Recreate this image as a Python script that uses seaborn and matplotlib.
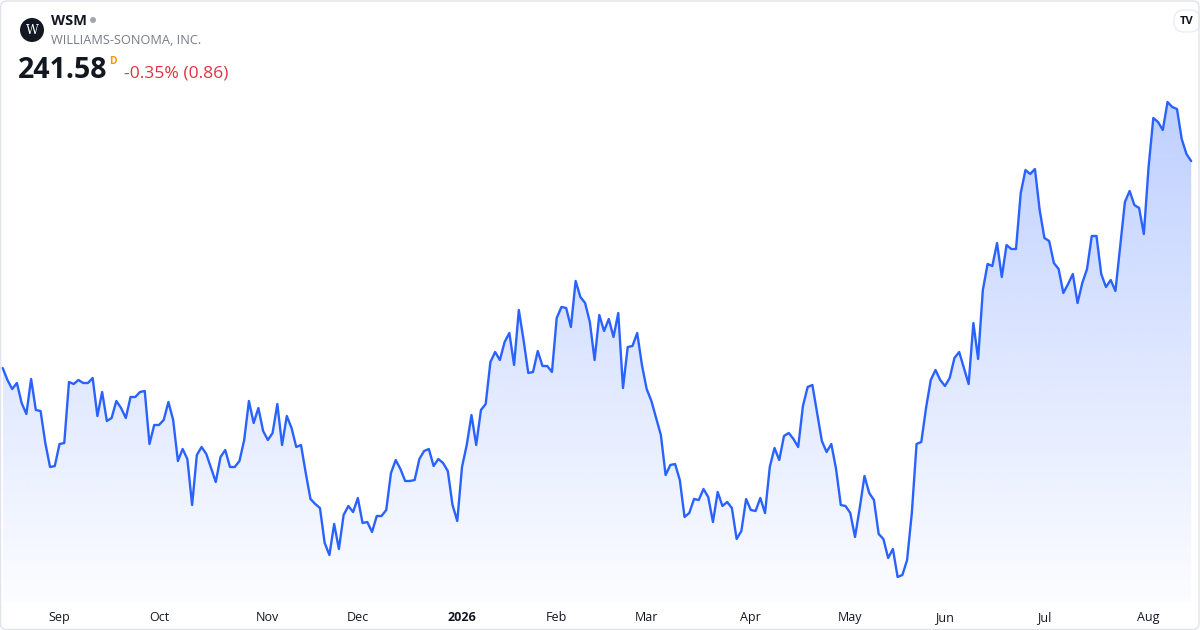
import numpy as np
import pandas as pd
import matplotlib
matplotlib.use("Agg")
import matplotlib.pyplot as plt
import seaborn as sns
from matplotlib.patches import Ellipse, FancyBboxPatch
from matplotlib.transforms import IdentityTransform

# header text
ticker = "WSM"
company = "WILLIAMS-SONOMA, INC."
last_price = "241.58"
change_text = "-0.35% (0.86)"

# trading days (NYSE calendar) and daily closes
start_date = "2025-08-14"
nyse_holidays = ["2025-09-01", "2025-11-27", "2025-12-25", "2026-01-01", "2026-01-19",
                 "2026-02-16", "2026-04-03", "2026-05-25", "2026-06-19", "2026-07-03"]

close_aug_oct = [200.2, 197.8, 196.0, 197.2, 193.2, 191.0, 198.0, 191.8, 191.6, 185.2,
                 180.4, 180.6, 185.0, 185.2, 197.4, 197.0, 197.8, 197.2, 197.2, 198.2,
                 190.6, 195.4, 189.6, 190.2, 193.6, 192.2, 190.2, 194.4, 194.4, 195.4,
                 195.6, 185.0, 188.8, 188.8, 189.8, 193.4, 189.8, 181.6, 184.0, 182.0,
                 172.8, 182.8]
close_oct_dec = [184.4, 183.0, 180.2, 177.4, 182.4, 183.8, 180.4, 180.4, 181.6, 185.8,
                 193.6, 189.2, 192.2, 187.6, 185.8, 187.2, 193.0, 184.8, 190.6, 188.2,
                 184.4, 184.8, 179.2, 174.0, 173.0, 172.2, 165.2, 162.8, 169.0, 164.0,
                 170.8, 172.6, 171.4, 174.2, 169.2, 169.4, 167.4, 170.6, 170.6, 171.8,
                 179.2]
close_dec_feb = [181.8, 180.0, 177.6, 177.6, 177.8, 182.0, 183.6, 184.0, 180.6, 182.0,
                 181.2, 179.6, 172.8, 169.6, 180.4, 184.8, 190.8, 184.8, 191.8, 193.0,
                 201.4, 203.4, 201.8, 205.4, 207.2, 200.8, 211.8, 205.8, 199.2, 199.4,
                 203.6, 200.6, 200.6, 199.4, 210.2, 212.4, 212.2, 208.4, 217.6, 214.4]
close_feb_apr = [213.2, 209.4, 201.8, 210.8, 207.6, 210.0, 206.4, 211.2, 196.2, 204.4,
                 204.6, 207.2, 200.8, 196.0, 193.6, 190.2, 186.8, 178.8, 180.8, 181.0,
                 177.8, 170.4, 171.2, 174.0, 173.8, 176.0, 174.4, 169.4, 175.4, 172.6,
                 173.4, 172.2, 166.0, 167.6, 174.0, 171.8, 171.6, 174.2, 171.2, 180.4]
close_apr_jun = [184.2, 181.8, 186.6, 187.2, 186.0, 184.4, 192.6, 196.4, 196.8, 191.2,
                 185.6, 183.4, 185.0, 180.0, 172.8, 172.6, 171.2, 166.4, 172.2, 178.6,
                 175.2, 173.8, 167.0, 166.0, 162.2, 164.0, 158.4, 158.8, 161.8, 171.2,
                 185.0, 185.4, 192.2, 197.8, 199.8, 197.8, 196.6]
close_jun_jul = [198.2, 202.2, 203.4, 200.2, 197.0, 209.2, 202.0, 215.8, 221.0, 220.6,
                 225.2, 218.4, 224.8, 224.0, 224.0, 235.2, 239.8, 239.0, 240.0, 231.8,
                 226.2, 225.6, 221.2, 220.0, 215.2, 217.0]
close_jul_aug = [219.0, 213.2, 217.2, 220.0, 226.6, 226.6, 219.0, 216.4, 217.8, 215.6,
                 224.6, 233.4, 235.6, 232.8, 232.2, 227.0, 240.4, 250.2, 249.4, 247.8,
                 253.4, 252.4, 252.0, 246.0, 243.0, 241.58]

close = (close_aug_oct + close_oct_dec + close_dec_feb + close_feb_apr
         + close_apr_jun + close_jun_jul + close_jul_aug)

dates = pd.bdate_range(start=start_date, periods=len(close), freq="C", holidays=nyse_holidays)
df = pd.DataFrame({"date": dates, "close": close})
df["i"] = np.arange(len(df))

# month labels on the first trading day of each month
new_month = df["date"].dt.month != df["date"].shift().dt.month
ticks = df[new_month & (df["i"] > 0)]
tick_labels = [str(d.year) if d.month == 1 else d.strftime("%b") for d in ticks["date"]]

sns.set_theme(style="white")
plt.rcParams["font.family"] = ["Open Sans", "DejaVu Sans"]

W, H = 1200, 630
fig = plt.figure(figsize=(12, 6.3), dpi=100)
fig.patch.set_facecolor("white")


def px(x, y):
    return x / W, 1 - y / H


ax = fig.add_axes([0, 27 / H, 1, 603 / H])
ylo, yhi = 153.2, 273.8
ax.set_xlim(-0.57, 252.86)
ax.set_ylim(ylo, yhi)

# gradient area under the line
fill = ax.fill_between(df["i"], df["close"], ylo, facecolor="none", edgecolor="none")
alpha = np.linspace(0.015, 0.30, 256)
img = np.zeros((256, 1, 4))
img[:, 0, 0] = 41 / 255
img[:, 0, 1] = 98 / 255
img[:, 0, 2] = 1.0
img[:, 0, 3] = alpha
im = ax.imshow(img, extent=[df["i"].min(), df["i"].max(), ylo, max(close)],
               origin="lower", aspect="auto", interpolation="bilinear", zorder=1)
im.set_clip_path(fill.get_paths()[0], transform=ax.transData)

sns.lineplot(data=df, x="i", y="close", ax=ax, color="#2962FF", linewidth=1.7, zorder=3)

ax.set_xlim(-0.57, 252.86)
ax.set_ylim(ylo, yhi)
ax.set_xlabel("")
ax.set_ylabel("")
ax.set_yticks([])
ax.set_xticks(ticks["i"])
ax.set_xticklabels(tick_labels)
ax.tick_params(axis="x", length=0, pad=6, labelsize=9, labelcolor="#131722")
for lab in ax.get_xticklabels():
    if lab.get_text().isdigit():
        lab.set_fontweight("bold")
for s in ax.spines.values():
    s.set_visible(False)
ax.patch.set_alpha(0)

# header
fig.patches.append(Ellipse(px(32, 30), 24 / W, 24 / H, transform=fig.transFigure,
                           facecolor="#131722", edgecolor="none"))
fig.text(*px(32, 31), "W", color="white", fontsize=9, family="DejaVu Serif",
         ha="center", va="center")
fig.text(*px(51, 21), ticker, fontsize=10.5, fontweight="bold", color="#131722", va="center")
fig.patches.append(Ellipse(px(93, 20), 6 / W, 6 / H, transform=fig.transFigure,
                           facecolor="#a3a6af", edgecolor="none"))
fig.text(*px(51, 41), company, fontsize=9.2, color="#787b86", va="center")
fig.text(*px(18, 71), last_price, fontsize=20.5, fontweight="bold", color="#131722", va="center")
fig.text(*px(109, 61), "D", fontsize=7.5, fontweight="bold", color="#ff9800", va="center")
fig.text(*px(124, 74), change_text, fontsize=12.6, color="#de3342", va="center")

# logo badge top right
fig.patches.append(FancyBboxPatch((1174, H - 32), 26, 22, boxstyle="round,pad=0,rounding_size=10",
                                  transform=IdentityTransform(), facecolor="white",
                                  edgecolor="#e6e8ee", linewidth=0.8))
fig.text(*px(1187, 21), "TV", fontsize=8, fontweight="bold", color="#131722",
         ha="center", va="center")

# outer frame
fig.patches.append(FancyBboxPatch((0.5, 0.5), W - 1.5, H - 1.5, boxstyle="round,pad=0,rounding_size=6",
                                  transform=IdentityTransform(), facecolor="none",
                                  edgecolor="#e0e3eb", linewidth=1))

fig.savefig("out.png", dpi=100, facecolor="white")
